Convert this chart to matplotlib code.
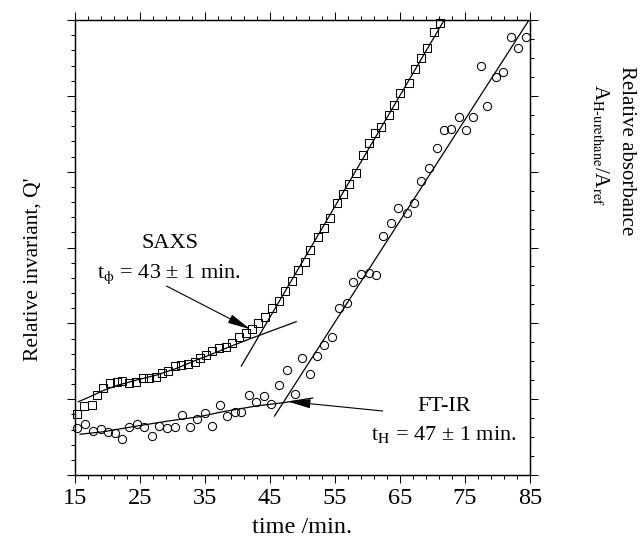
import matplotlib
matplotlib.use("Agg")
import matplotlib.pyplot as plt
from matplotlib.ticker import FixedLocator, MultipleLocator, NullFormatter
import numpy as np

plt.rcParams['font.family'] = ['Liberation Serif', 'DejaVu Serif']
plt.rcParams['mathtext.fontset'] = 'stix'

# ---- data ----
saxs_t = [15.35, 16.38, 17.56, 18.42, 19.34, 20.37, 21.40, 22.26, 23.34, 24.36,
          25.49, 26.41, 27.43, 28.31, 29.32, 30.35, 31.38, 32.39, 33.42, 34.20,
          35.11, 36.14, 37.15, 38.18, 39.21, 40.22, 41.25, 42.17, 43.17, 44.24,
          45.35, 46.32, 47.32, 48.31, 49.31, 50.31, 51.23, 52.35, 53.30, 54.30,
          55.30, 56.19, 57.22, 58.25, 59.37, 60.29, 61.21, 62.08, 63.25, 64.12,
          65.00, 66.32, 67.30, 68.22, 69.15, 70.16, 71.19]
saxs_q = [4.02, 4.55, 4.61, 5.27, 5.72, 6.05, 6.15, 6.20, 6.09, 6.15,
          6.41, 6.41, 6.48, 6.74, 6.88, 7.19, 7.25, 7.32, 7.45, 7.70,
          7.91, 8.19, 8.35, 8.46, 8.72, 9.08, 9.36, 9.63, 10.02, 10.44,
          10.99, 11.47, 12.10, 12.76, 13.52, 14.04, 14.83, 15.69, 16.28, 16.92,
          17.93, 18.53, 19.19, 19.93, 21.10, 21.91, 22.53, 22.92, 23.73, 24.39,
          25.17, 25.82, 26.75, 27.47, 28.13, 29.19, 29.78]

ftir_t = [15.26, 16.54, 17.72, 18.95, 20.11, 21.14, 22.17, 23.34, 24.47, 25.59,
          26.77, 27.94, 29.17, 30.35, 31.53, 32.65, 33.77, 34.96, 36.14, 37.26,
          38.38, 39.56, 40.59, 41.76, 42.89, 44.01, 45.20, 46.36, 47.55, 48.77,
          49.96, 51.08, 52.30, 53.38, 54.56, 55.68, 56.91, 57.83, 59.01, 60.18,
          61.32, 62.44, 63.62, 64.74, 66.01, 67.09, 68.22, 69.39, 70.62, 71.80,
          72.92, 74.10, 75.13, 76.25, 77.43, 78.45, 79.74, 80.86, 82.04, 83.21,
          84.34]
ftir_a = [2.46, 2.67, 2.34, 2.41, 2.28, 2.23, 1.88, 2.55, 2.67, 2.55,
          2.06, 2.58, 2.49, 2.55, 3.16, 2.55, 2.97, 3.29, 2.58, 3.69,
          3.11, 3.34, 3.34, 4.22, 3.87, 4.17, 3.76, 4.76, 5.55, 4.25,
          6.16, 5.35, 6.28, 6.86, 7.30, 8.81, 9.09, 10.20, 10.62, 10.67,
          10.55, 12.61, 13.28, 14.07, 13.84, 14.36, 15.52, 16.21, 17.23, 18.20,
          18.25, 18.90, 18.20, 18.90, 21.59, 19.46, 20.98, 21.27, 23.12, 22.51,
          23.12]

# fit lines (vertices)
saxs_fit1_t = [15.51, 17.30, 19.34, 21.40, 24.47, 27.54, 30.61, 33.68, 35.72, 38.79, 41.86, 44.94, 49.03]
saxs_fit1_q = [4.83, 5.16, 5.57, 5.90, 6.26, 6.59, 7.03, 7.58, 7.91, 8.46, 8.97, 9.46, 10.11]
saxs_fit2_t = [40.59, 71.80]
saxs_fit2_q = [7.19, 30.0]
ftir_fit1_t = [15.77, 19.34, 24.47, 29.58, 34.19, 37.77, 42.89, 46.98, 51.58]
ftir_fit1_a = [2.15, 2.28, 2.58, 2.86, 3.08, 3.34, 3.64, 3.81, 4.06]
ftir_fit2_t = [45.70, 84.85]
ftir_fit2_a = [3.11, 24.0]

x_major = [15, 25, 35, 45, 55, 65, 75, 85]
x_labels = ['15', '25', '35', '45', '55', '65', '75', '85']

# ---- figure ----
fig = plt.figure(figsize=(6.43, 5.56), dpi=100)
ax = fig.add_axes([75 / 643, 81 / 556, 455 / 643, 455 / 556])
ax2 = ax.twinx()

lw_fit = 0.9
ax.plot(saxs_fit1_t, saxs_fit1_q, color='black', lw=lw_fit)
ax.plot(saxs_fit2_t, saxs_fit2_q, color='black', lw=lw_fit)
ax.plot(saxs_t, saxs_q, linestyle='none', marker='s', ms=5.8, mfc='none',
        mec='black', mew=0.75, clip_on=False)

ax2.plot(ftir_fit1_t, ftir_fit1_a, color='black', lw=lw_fit)
ax2.plot(ftir_fit2_t, ftir_fit2_a, color='black', lw=lw_fit)
ax2.plot(ftir_t, ftir_a, linestyle='none', marker='o', ms=5.9, mfc='none',
         mec='black', mew=0.75, clip_on=False)

ax.set_xlim(15, 85)
ax.set_ylim(0, 30)
ax2.set_ylim(0, 24)

ax.xaxis.set_major_locator(FixedLocator(x_major))
ax.set_xticklabels(x_labels)
ax.xaxis.set_minor_locator(FixedLocator(np.arange(15, 86, 2)))
ax.yaxis.set_major_locator(MultipleLocator(5))
ax.yaxis.set_minor_locator(MultipleLocator(1))
ax.yaxis.set_major_formatter(NullFormatter())
ax2.yaxis.set_major_locator(MultipleLocator(4))
ax2.yaxis.set_minor_locator(MultipleLocator(1))
ax2.yaxis.set_major_formatter(NullFormatter())

for a in (ax, ax2):
    for s in a.spines.values():
        s.set_linewidth(0.9)
ax.tick_params(axis='x', which='both', direction='out', top=True, labeltop=False,
               labelsize=17.5, pad=3)
ax.tick_params(axis='y', which='both', direction='out', right=False)
ax.tick_params(which='major', length=6, width=0.75)
ax.tick_params(which='minor', length=3.2, width=0.75)
ax2.tick_params(axis='y', which='major', direction='out', length=6, width=0.75)
ax2.tick_params(axis='y', which='minor', direction='out', length=3.2, width=0.75)

ax.set_xlabel('time /min.', fontsize=17.5, labelpad=6)

fig.text(33 / 643, 1 - 269 / 556, "Relative invariant, Q'", rotation=90,
         ha='center', va='center', fontsize=15.5)
fig.text(627 / 643, 1 - 151 / 556, 'Relative absorbance', rotation=270,
         ha='center', va='center', fontsize=15)
fig.text(600 / 643, 1 - 145 / 556,
         'A$_{\\mathrm{H\u2010urethane}}$/A$_{\\mathrm{ref}}$', rotation=270,
         ha='center', va='center', fontsize=15)

# annotations
arrow_style = dict(arrowstyle='-|>,head_length=1.0,head_width=0.2',
                   color='black', lw=0.8, shrinkA=0, shrinkB=0, mutation_scale=14)
ax.text(29.66, 14.95, 'SAXS', ha='center', va='baseline', fontsize=16)
ax.text(18.33, 12.97, 't$_{\\mathrm{\\phi}}$ = 43 \u00b1 1 min.', ha='left', va='baseline', fontsize=16)
ax.annotate('', xy=(41.97, 9.61), xytext=(29.08, 12.46), arrowprops=arrow_style)
ax.text(71.87, 4.24, 'FT-IR', ha='center', va='baseline', fontsize=16)
ax.text(71.80, 2.31, 't$_{\\mathrm{H}}$ = 47 \u00b1 1 min.', ha='center', va='baseline', fontsize=16)
ax.annotate('', xy=(47.70, 4.85), xytext=(62.33, 4.22), arrowprops=arrow_style)

fig.savefig('out.png', dpi=100)
